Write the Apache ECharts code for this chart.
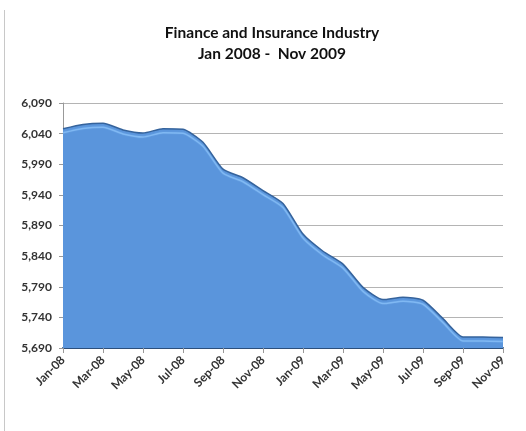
<!DOCTYPE html>
<html>
<head>
<meta charset="utf-8">
<script src="https://cdn.jsdelivr.net/npm/echarts@6/dist/echarts.min.js"></script>
<style>html,body{margin:0;padding:0;background:#fff}#c{width:526px;height:431px}</style>
</head>
<body>
<div id="c"></div>
<script>
const titleText = 'Finance and Insurance Industry';
const subtitleText = 'Jan 2008 -  Nov 2009';
const months = ['Jan-08','Feb-08','Mar-08','Apr-08','May-08','Jun-08','Jul-08','Aug-08','Sep-08','Oct-08','Nov-08','Dec-08',
                'Jan-09','Feb-09','Mar-09','Apr-09','May-09','Jun-09','Jul-09','Aug-09','Sep-09','Oct-09','Nov-09'];
const employment = [6048,6055,6057,6046,6041,6048,6047,6026,5982,5968,5947,5926,
                    5876,5848,5827,5789,5769,5773,5768,5738,5708,5708,5707];
const yMin = 5690, yMax = 6090, yStep = 50;

const chart = echarts.init(document.getElementById('c'), null, {renderer: 'canvas'});
chart.setOption({
  animation: false,
  backgroundColor: '#fff',
  title: {
    text: titleText + '\n' + subtitleText,
    left: 272, top: 22, textAlign: 'center', padding: 0,
    textStyle: {fontFamily: 'Lato', fontWeight: 'bold', fontSize: 15.5, lineHeight: 21, color: '#111'}
  },
  graphic: [{
    type: 'line', shape: {x1: 4.5, y1: 10, x2: 4.5, y2: 431},
    style: {stroke: '#c8c8c8', lineWidth: 1}
  }],
  grid: {left: 63, right: 23, top: 103, bottom: 83},
  xAxis: {
    type: 'category', data: months, boundaryGap: false,
    axisLine: {lineStyle: {color: '#2c4f7c', width: 2}},
    axisTick: {show: true, interval: 1, length: 5, lineStyle: {color: '#999'}},
    axisLabel: {interval: 1, rotate: 45, fontFamily: 'Lato', fontSize: 12, fontWeight: 'bold', color: '#333', margin: 10}
  },
  yAxis: {
    type: 'value', min: yMin, max: yMax, interval: yStep,
    axisLine: {show: true, lineStyle: {color: '#999'}},
    axisTick: {show: true, length: 4, lineStyle: {color: '#999'}},
    splitLine: {lineStyle: {color: '#b4b4b4'}},
    axisLabel: {
      formatter: v => v.toLocaleString('en-US'),
      fontFamily: 'Lato', fontSize: 12, fontWeight: 'bold', color: '#333', margin: 11
    }
  },
  series: [{
    type: 'line', data: employment, symbol: 'none', smooth: 0.2,
    lineStyle: {color: '#35639c', width: 1.5, shadowColor: 'rgba(140,195,250,0.9)', shadowOffsetY: 4, shadowBlur: 1},
    areaStyle: {color: '#5a95dc', opacity: 1}
  }]
});
</script>
</body>
</html>
